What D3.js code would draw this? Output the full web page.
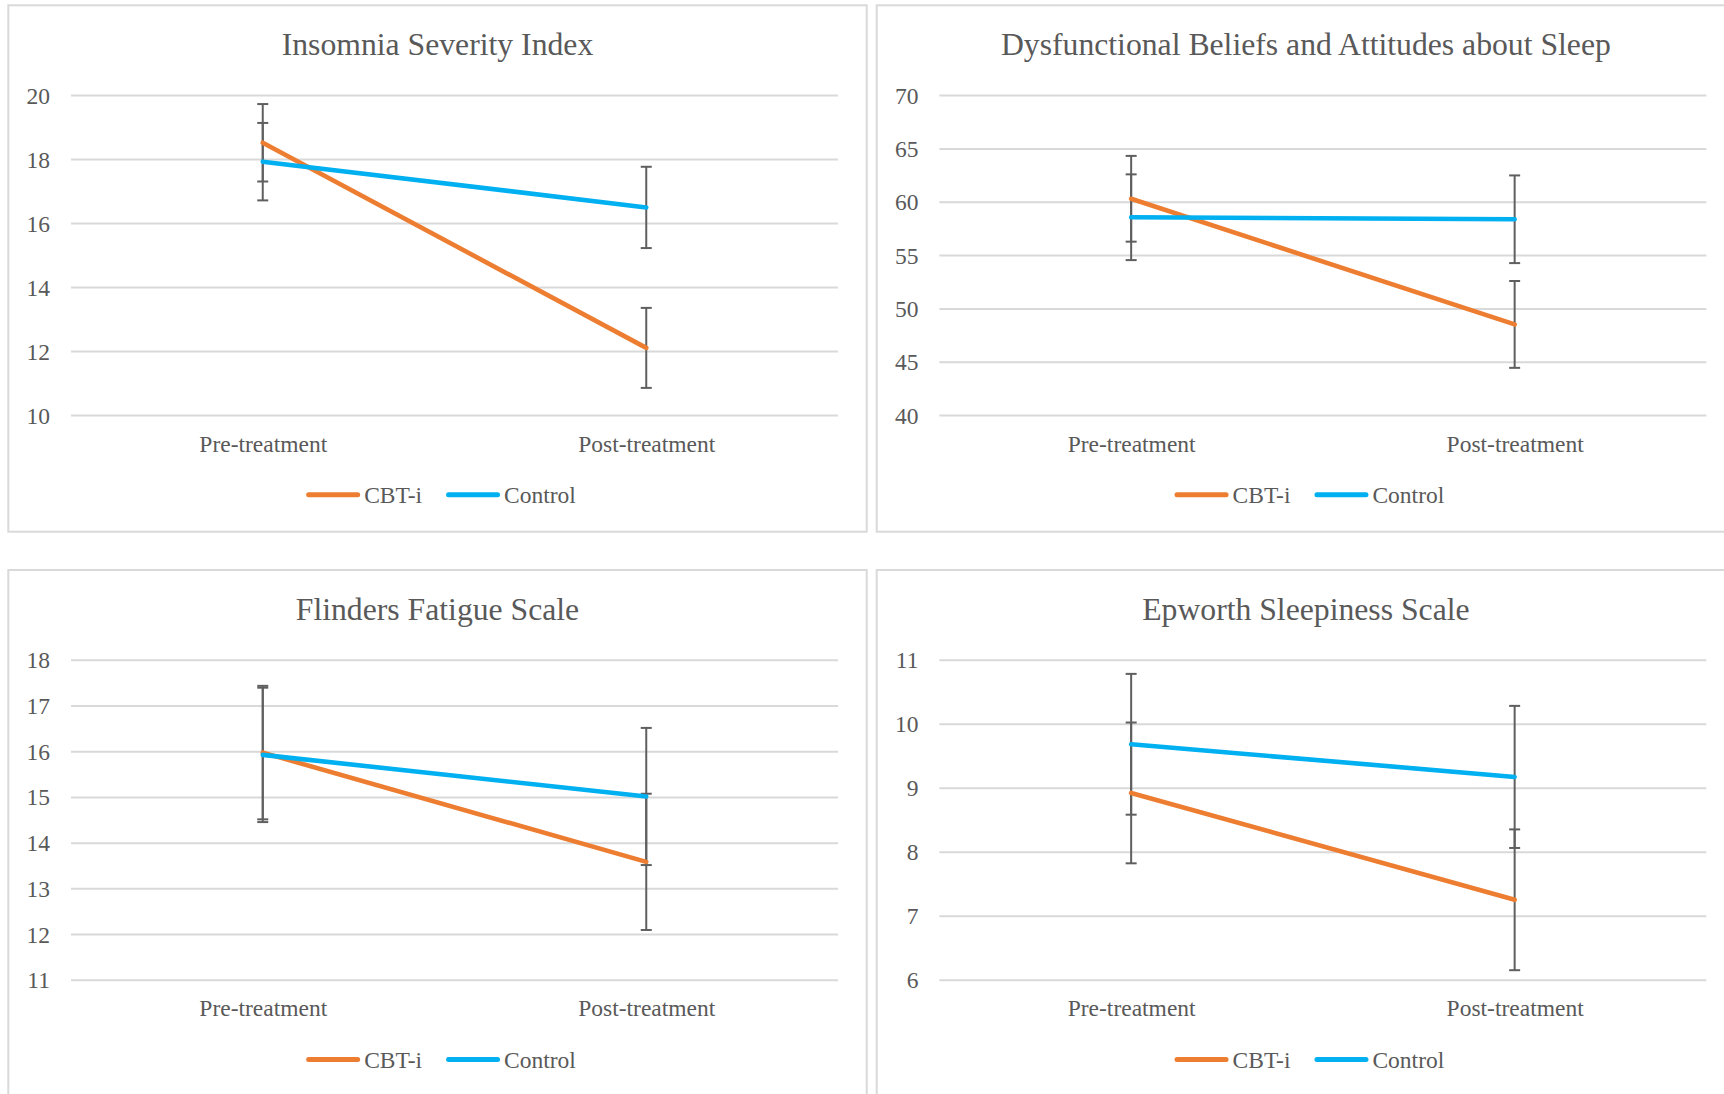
<!DOCTYPE html>
<html>
<head>
<meta charset="utf-8">
<script src="https://cdn.jsdelivr.net/npm/d3@7"></script>
<style>
  html, body { margin: 0; padding: 0; background: #ffffff; }
  svg { display: block; }
  text { font-family: "Liberation Serif", "Times New Roman", serif; fill: #595959; }
</style>
</head>
<body>
<script>
// ---------- Data ----------
const categories = ["Pre-treatment", "Post-treatment"];
const seriesNames = ["CBT-i", "Control"];
const chartTitles = [
  "Insomnia Severity Index",
  "Dysfunctional Beliefs and Attitudes about Sleep",
  "Flinders Fatigue Scale",
  "Epworth Sleepiness Scale"
];

// Insomnia Severity Index
const isiTicks = [10, 12, 14, 16, 18, 20];
const isiCBT = [18.51, 12.10];
const isiCBTErr = [1.21, 1.25];
const isiControl = [17.92, 16.49];
const isiControlErr = [1.21, 1.27];

// Dysfunctional Beliefs and Attitudes about Sleep
const dbasTicks = [40, 45, 50, 55, 60, 65, 70];
const dbasCBT = [60.28, 48.50];
const dbasCBTErr = [4.02, 4.07];
const dbasControl = [58.55, 58.36];
const dbasControlErr = [4.02, 4.11];

// Flinders Fatigue Scale
const ffsTicks = [11, 12, 13, 14, 15, 16, 17, 18];
const ffsCBT = [15.97, 13.58];
const ffsCBTErr = [1.46, 1.49];
const ffsControl = [15.92, 15.01];
const ffsControlErr = [1.47, 1.50];

// Epworth Sleepiness Scale
const essTicks = [6, 7, 8, 9, 10, 11];
const essCBT = [8.92, 7.25];
const essCBTErr = [1.10, 1.10];
const essControl = [9.68, 9.17];
const essControlErr = [1.10, 1.11];

const panels = [
  { title: chartTitles[0], ticks: isiTicks,  series: [[isiCBT, isiCBTErr], [isiControl, isiControlErr]] },
  { title: chartTitles[1], ticks: dbasTicks, series: [[dbasCBT, dbasCBTErr], [dbasControl, dbasControlErr]] },
  { title: chartTitles[2], ticks: ffsTicks,  series: [[ffsCBT, ffsCBTErr], [ffsControl, ffsControlErr]] },
  { title: chartTitles[3], ticks: essTicks,  series: [[essCBT, essCBTErr], [essControl, essControlErr]] }
];

// ---------- Layout / style ----------
const W = 1724, H = 1094;
const colX = [8.3, 876.7], rowY = [5.3, 570];
const PW = 858.4, PH = 526.4;
const plotL = 62.7, plotR = 829.7, plotT = 89.8, plotB = 409.8;
const colors = ["#ED7D31", "#00B0F0"];
const gridColor = "#d9d9d9";
const errColor = "#5f5f5f";
const axisFont = 23.5, titleFont = 31.7;

const svg = d3.select("body").append("svg").attr("width", W).attr("height", H);
svg.append("rect").attr("width", W).attr("height", H).attr("fill", "#ffffff");

panels.forEach((p, i) => {
  const ox = colX[i % 2], oy = rowY[Math.floor(i / 2)];
  const g = svg.append("g").attr("transform", `translate(${ox},${oy})`);

  g.append("rect")
    .attr("x", 0).attr("y", 0).attr("width", PW).attr("height", PH)
    .attr("fill", "#ffffff").attr("stroke", gridColor).attr("stroke-width", 2);

  const x = d3.scalePoint().domain(categories).range([plotL, plotR]).padding(0.5);
  const y = d3.scaleLinear().domain(d3.extent(p.ticks)).range([plotB, plotT]);

  // Title
  g.append("text")
    .attr("x", PW / 2).attr("y", 49.7)
    .attr("text-anchor", "middle")
    .style("font-size", titleFont + "px")
    .text(p.title);

  // Y axis with gridlines
  const yAxis = g.append("g")
    .attr("transform", `translate(${plotL},0)`)
    .call(d3.axisLeft(y).tickValues(p.ticks).tickSize(-(plotR - plotL)).tickPadding(21).tickFormat(d3.format("d")));
  yAxis.select(".domain").remove();
  yAxis.selectAll(".tick line").attr("stroke", gridColor).attr("stroke-width", 2);
  yAxis.selectAll(".tick text")
    .attr("dy", "0.34em")
    .style("font-size", axisFont + "px")
    .attr("fill", "#595959")
    .style("font-family", '"Liberation Serif", "Times New Roman", serif');

  // X axis labels
  const xAxis = g.append("g")
    .attr("transform", `translate(0,${plotB})`)
    .call(d3.axisBottom(x).tickSize(0).tickPadding(36.7));
  xAxis.select(".domain").remove();
  xAxis.selectAll(".tick text")
    .attr("dy", null)
    .style("font-size", axisFont + "px")
    .attr("fill", "#595959")
    .style("font-family", '"Liberation Serif", "Times New Roman", serif');

  // Error bars
  p.series.forEach(([vals, errs]) => {
    vals.forEach((v, j) => {
      const cx = x(categories[j]);
      const eg = g.append("g").attr("stroke", errColor).attr("stroke-width", 2);
      eg.append("line").attr("x1", cx).attr("x2", cx).attr("y1", y(v - errs[j])).attr("y2", y(v + errs[j]));
      eg.append("line").attr("x1", cx - 5.5).attr("x2", cx + 5.5).attr("y1", y(v - errs[j])).attr("y2", y(v - errs[j]));
      eg.append("line").attr("x1", cx - 5.5).attr("x2", cx + 5.5).attr("y1", y(v + errs[j])).attr("y2", y(v + errs[j]));
    });
  });

  // Lines
  const line = d3.line().x((d, j) => x(categories[j])).y(d => y(d));
  p.series.forEach(([vals], s) => {
    g.append("path")
      .datum(vals)
      .attr("d", line)
      .attr("fill", "none")
      .attr("stroke", colors[s])
      .attr("stroke-width", 4.6)
      .attr("stroke-linecap", "round")
      .attr("stroke-linejoin", "round");
  });

  // Legend
  const lg = g.append("g");
  const legendY = 489.5;
  const lineLen = 54, gapText = 4, gapItem = 24, lw = 5;
  let cursor = 0;
  const items = [];
  seriesNames.forEach((name, s) => {
    const it = lg.append("g");
    it.append("line")
      .attr("x1", cursor + lw / 2).attr("x2", cursor + lineLen - lw / 2)
      .attr("y1", legendY).attr("y2", legendY)
      .attr("stroke", colors[s]).attr("stroke-width", lw).attr("stroke-linecap", "round");
    const t = it.append("text")
      .attr("x", cursor + lineLen + gapText).attr("y", legendY + 8)
      .style("font-size", axisFont + "px")
      .text(name);
    cursor += lineLen + gapText + t.node().getComputedTextLength() + gapItem;
    items.push(it);
  });
  const total = cursor - gapItem;
  lg.attr("transform", `translate(${PW / 2 - total / 2 + 3.5},0)`);
});
</script>
</body>
</html>
